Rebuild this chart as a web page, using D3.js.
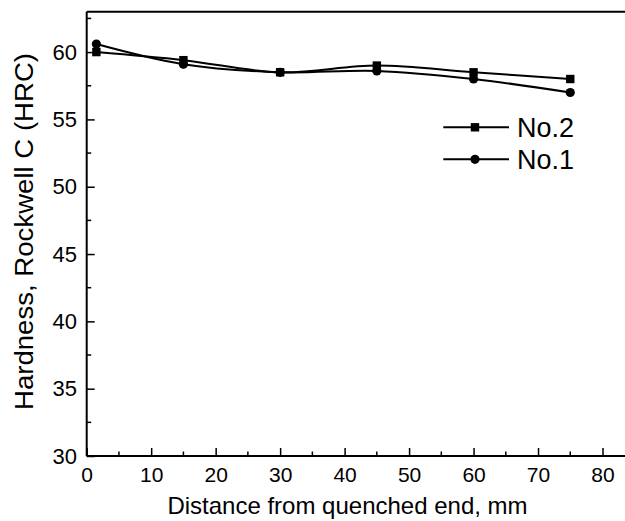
<!DOCTYPE html>
<html>
<head>
<meta charset="utf-8">
<script src="https://cdn.jsdelivr.net/npm/d3@7"></script>
<style>
  html, body { margin: 0; padding: 0; background: #fff; }
  svg { display: block; font-family: "Liberation Sans", Arial, sans-serif; }
</style>
</head>
<body>
<svg id="chart" width="625" height="521"></svg>
<script>
// Jominy end-quench hardness profiles
const distances = [1.5, 15, 30, 45, 60, 75];
const hardnessNo2 = [60.0, 59.4, 58.5, 59.0, 58.5, 58.0];
const hardnessNo1 = [60.6, 59.1, 58.5, 58.6, 58.0, 57.0];
const seriesNames = ["No.2", "No.1"];
const xTickValues = [0, 10, 20, 30, 40, 50, 60, 70, 80];
const yTickValues = [30, 35, 40, 45, 50, 55, 60];

const svg = d3.select("#chart");
const plotLeft = 86.7, plotRight = 625 + 3.3, plotTop = 11.7, plotBottom = 456;

const x = d3.scaleLinear().domain([0, 84]).range([plotLeft, plotRight]);
const y = d3.scaleLinear().domain([30, 63]).range([plotBottom, plotTop]);

// minor ticks (inward)
const xMinor = d3.range(5, 85, 10);
const yMinor = d3.range(32.5, 63, 5);

const g = svg.append("g");

// frame: top edge
g.append("line").attr("x1", plotLeft).attr("x2", 625).attr("y1", plotTop).attr("y2", plotTop)
  .attr("stroke", "#000").attr("stroke-width", 2);

// bottom axis
const xAxis = d3.axisBottom(x).tickValues(xTickValues).tickSizeInner(-8).tickSizeOuter(0).tickPadding(10.7);
const gx = g.append("g").attr("transform", `translate(0,${plotBottom})`).call(xAxis);
gx.select(".domain").attr("stroke-width", 2).attr("d", `M${plotLeft},0H625`);
gx.selectAll(".tick line").attr("stroke-width", 1.5);
gx.selectAll(".tick text").attr("font-size", 21).attr("fill", "#000")
  .attr("font-family", "Liberation Sans, Arial, sans-serif");
gx.selectAll(".minor").data(xMinor).enter().append("line")
  .attr("x1", d => x(d)).attr("x2", d => x(d)).attr("y1", 0).attr("y2", -4.5)
  .attr("stroke", "#000").attr("stroke-width", 1.5);

// left axis
const yAxis = d3.axisLeft(y).tickValues(yTickValues).tickSizeInner(-8).tickSizeOuter(0).tickPadding(9.7);
const gy = g.append("g").attr("transform", `translate(${plotLeft},0)`).call(yAxis);
gy.select(".domain").attr("stroke-width", 2).attr("d", `M0,${plotBottom}V${plotTop}`);
gy.selectAll(".tick line").attr("stroke-width", 1.5);
gy.selectAll(".tick text").attr("font-size", 22).attr("fill", "#000")
  .attr("font-family", "Liberation Sans, Arial, sans-serif");
gy.selectAll(".minor").data(yMinor).enter().append("line")
  .attr("y1", d => y(d)).attr("y2", d => y(d)).attr("x1", 0).attr("x2", 4.5)
  .attr("stroke", "#000").attr("stroke-width", 1.5);

// axis titles
svg.append("text").attr("x", (163 + 532) / 2).attr("y", 514)
  .attr("text-anchor", "middle").attr("font-size", 24)
  .text("Distance from quenched end, mm");
svg.append("text").attr("transform", "translate(33,231.5) rotate(-90)")
  .attr("text-anchor", "middle").attr("font-size", 25)
  .attr("textLength", 357).attr("lengthAdjust", "spacingAndGlyphs")
  .text("Hardness, Rockwell C (HRC)");

// curves
const line = d3.line().x(d => x(d[0])).y(d => y(d[1])).curve(d3.curveCatmullRom.alpha(0.5));
const dataNo2 = distances.map((d, i) => [d, hardnessNo2[i]]);
const dataNo1 = distances.map((d, i) => [d, hardnessNo1[i]]);

const plot = svg.append("g");
[dataNo2, dataNo1].forEach(data => {
  plot.append("path").datum(data).attr("d", line)
    .attr("fill", "none").attr("stroke", "#000").attr("stroke-width", 2);
});
plot.selectAll(".ci").data(dataNo1).enter().append("circle")
  .attr("cx", d => x(d[0])).attr("cy", d => y(d[1])).attr("r", 4.6).attr("fill", "#000");
plot.selectAll(".sq").data(dataNo2).enter().append("rect")
  .attr("x", d => x(d[0]) - 4.2).attr("y", d => y(d[1]) - 4.2)
  .attr("width", 8.4).attr("height", 8.4).attr("fill", "#000");

// legend
const legend = svg.append("g");
const legendRows = [{ name: seriesNames[0], y: 127.3, shape: "square" }, { name: seriesNames[1], y: 159.3, shape: "circle" }];
legendRows.forEach(r => {
  legend.append("line").attr("x1", 443.3).attr("x2", 509).attr("y1", r.y).attr("y2", r.y)
    .attr("stroke", "#000").attr("stroke-width", 2);
  if (r.shape === "square") {
    legend.append("rect").attr("x", 475 - 4.2).attr("y", r.y - 4.2).attr("width", 8.4).attr("height", 8.4).attr("fill", "#000");
  } else {
    legend.append("circle").attr("cx", 475).attr("cy", r.y).attr("r", 4.6).attr("fill", "#000");
  }
  legend.append("text").attr("x", 517).attr("y", r.y + 9.5).attr("font-size", 27).text(r.name);
});
</script>
</body>
</html>
